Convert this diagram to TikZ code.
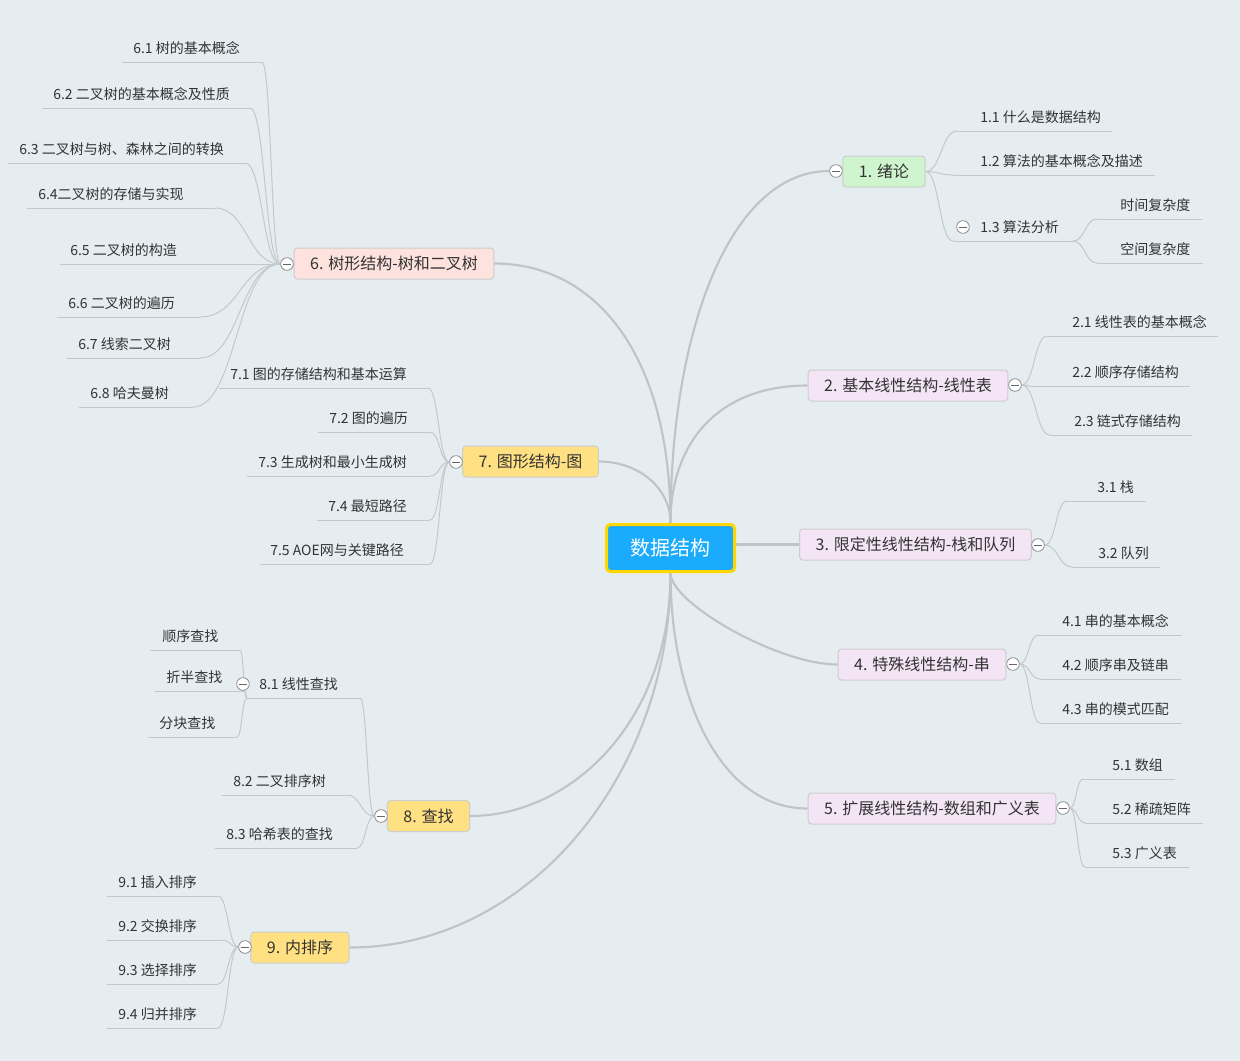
\documentclass[tikz,border=0pt]{standalone}
\usepackage{fontspec}
\newfontfamily\cjk{Noto Sans CJK SC}
\usetikzlibrary{calc}
\definecolor{bgc}{RGB}{229,237,241}
\definecolor{linec}{RGB}{192,196,198}
\definecolor{ulc}{RGB}{196,200,202}
\definecolor{rootc}{RGB}{27,171,252}
\definecolor{rootb}{RGB}{255,214,0}
\definecolor{t1c}{RGB}{206,245,206}
\definecolor{tpc}{RGB}{243,229,245}
\definecolor{t6c}{RGB}{253,226,222}
\definecolor{tyc}{RGB}{255,224,130}
\definecolor{tbord}{RGB}{205,205,205}
\definecolor{txt}{RGB}{51,51,51}
\pgfdeclarelayer{bgl}\pgfdeclarelayer{lnl}\pgfsetlayers{bgl,lnl,main}
\newcommand\sub[6]{%
  \coordinate (#1-l) at (#2,#4);
  \coordinate (#1-r) at (#3,#4);
  \node[subtext] (#1) at (#5,#4-14) {#6};
  \begin{pgfonlayer}{lnl}\draw[uline] (#1-l) -- (#1-r);\end{pgfonlayer}}
\newcommand\br[2]{%
  \begin{pgfonlayer}{lnl}
  \draw[bline] let \p1=(#1), \p2=(#2), \p3=($(#1)!0.5!(#2)$) in
    (\p1) .. controls (\x3,\y1) and (\x3,\y2) .. (\p2);
  \end{pgfonlayer}}
\begin{document}
\begin{tikzpicture}[x=0.75pt,y=-0.75pt,font=\cjk,
  rootnode/.style={draw=rootb, line width=2.25pt, fill=rootc, rounded corners=3pt,
    text=white, font=\cjk\fontsize{15}{18}\selectfont, minimum width=96pt, minimum height=35.25pt},
  topic/.style={draw=tbord, line width=0.75pt, rounded corners=2.5pt,
    font=\cjk\fontsize{12}{14}\selectfont, text=txt, inner xsep=12pt, inner ysep=2pt, minimum height=23.25pt},
  subtext/.style={font=\cjk\fontsize{10.5}{12}\selectfont, text=txt, inner sep=0pt, anchor=west},
  mline/.style={draw=linec, line width=1.6pt},
  bline/.style={draw=ulc, line width=0.75pt},
  uline/.style={draw=ulc, line width=0.75pt},
  collapse/.style={circle, draw=black!45, fill=white, line width=0.6pt, minimum size=9.5pt, inner sep=0pt,
    path picture={\draw[line width=0.6pt, black!60]
      ($(path picture bounding box.west)!0.22!(path picture bounding box.east)$) --
      ($(path picture bounding box.west)!0.78!(path picture bounding box.east)$);}}
]
\useasboundingbox (0,0) rectangle (1240,1061);
\begin{pgfonlayer}{bgl}\fill[bgc] (0,0) rectangle (1240,1061);\end{pgfonlayer}

% root and topics
\node[rootnode] (root) at (670.5,548) {数据结构};
\node[topic, fill=t1c] (t1) at (884,171.5) {1. 绪论};
\node[topic, fill=tpc] (t2) at (908,385.5) {2. 基本线性结构-线性表};
\node[topic, fill=tpc] (t3) at (915.5,544.5) {3. 限定性线性结构-栈和队列};
\node[topic, fill=tpc] (t4) at (922,664.5) {4. 特殊线性结构-串};
\node[topic, fill=tpc] (t5) at (932,808.5) {5. 扩展线性结构-数组和广义表};
\node[topic, fill=t6c] (t6) at (394,263.5) {6. 树形结构-树和二叉树};
\node[topic, fill=tyc] (t7) at (530.5,461.5) {7. 图形结构-图};
\node[topic, fill=tyc] (t8) at (428.5,816) {8. 查找};
\node[topic, fill=tyc] (t9) at (300,947.5) {9. 内排序};

% collapse markers
\node[collapse] (c1) at (836,171) {};
\node[collapse] (c2) at (1015,385) {};
\node[collapse] (c3) at (1038,545) {};
\node[collapse] (c4) at (1013,664) {};
\node[collapse] (c5) at (1063,808) {};
\node[collapse] (c6) at (287,264) {};
\node[collapse] (c7) at (456,462) {};
\node[collapse] (c8) at (381,816) {};
\node[collapse] (c9) at (245,947) {};
\node[collapse] (c13) at (963,227) {};
\node[collapse] (c81) at (243,684) {};

% main connectors
\begin{pgfonlayer}{lnl}
\draw[mline] (root.north) .. controls +(0,-190) and +(-100,0) .. (c1.west);
\draw[mline] (root.north) .. controls +(0,-80) and +(-90,0) .. (t2.west);
\draw[mline] (root.east |- t3.west) -- (t3.west);
\draw[mline] (root.south) .. controls +(0,30) and +(-60,0) .. (t4.west);
\draw[mline] (root.south) .. controls +(0,120) and +(-90,0) .. (t5.west);
\draw[mline] (root.north) .. controls +(0,-170) and +(100,0) .. (t6.east);
\draw[mline] (root.north) .. controls +(0,-35) and +(40,0) .. (t7.east);
\draw[mline] (root.south) .. controls +(0,150) and +(100,0) .. (t8.east);
\draw[mline] (root.south) .. controls +(0,200) and +(180,0) .. (t9.east);
\end{pgfonlayer}

% subtopics
\sub{s11}{957}{1112}{131}{980}{1.1 什么是数据结构}
\sub{s12}{953}{1155}{175}{980}{1.2 算法的基本概念及描述}
\sub{s13}{953}{1073}{241}{980}{1.3 算法分析}
\sub{s131}{1097}{1202}{219}{1120}{时间复杂度}
\sub{s132}{1097}{1203}{263}{1120}{空间复杂度}
\sub{s21}{1047}{1218}{336}{1072}{2.1 线性表的基本概念}
\sub{s22}{1030}{1190}{386}{1072}{2.2 顺序存储结构}
\sub{s23}{1050}{1192}{435}{1074}{2.3 链式存储结构}
\sub{s31}{1067}{1146}{501}{1097}{3.1 栈}
\sub{s32}{1072}{1160}{567}{1098}{3.2 队列}
\sub{s41}{1038}{1182}{635}{1062}{4.1 串的基本概念}
\sub{s42}{1040}{1181}{679}{1062}{4.2 顺序串及链串}
\sub{s43}{1040}{1182}{723}{1062}{4.3 串的模式匹配}
\sub{s51}{1083}{1175}{779}{1112}{5.1 数组}
\sub{s52}{1085}{1203}{823}{1112}{5.2 稀疏矩阵}
\sub{s53}{1085}{1189}{867}{1112}{5.3 广义表}
\sub{s61}{122}{262}{62}{133}{6.1 树的基本概念}
\sub{s62}{42}{250}{108}{53}{6.2 二叉树的基本概念及性质}
\sub{s63}{8}{245}{163}{19}{6.3 二叉树与树、森林之间的转换}
\sub{s64}{27}{215}{208}{38}{6.4二叉树的存储与实现}
\sub{s65}{60}{250}{264}{70}{6.5 二叉树的构造}
\sub{s66}{57}{200}{317}{68}{6.6 二叉树的遍历}
\sub{s67}{67}{200}{358}{78}{6.7 线索二叉树}
\sub{s68}{79}{193}{407}{90}{6.8 哈夫曼树}
\sub{s71}{219}{428}{388}{230}{7.1 图的存储结构和基本运算}
\sub{s72}{318}{430}{432}{329}{7.2 图的遍历}
\sub{s73}{247}{430}{476}{258}{7.3 生成树和最小生成树}
\sub{s74}{317}{430}{520}{328}{7.4 最短路径}
\sub{s75}{260}{430}{564}{270}{7.5 AOE网与关键路径}
\sub{s81}{247}{360}{698}{259}{8.1 线性查找}
\sub{s811}{150}{240}{650}{162}{顺序查找}
\sub{s812}{155}{245}{691}{166}{折半查找}
\sub{s813}{148}{237}{737}{159}{分块查找}
\sub{s82}{222}{347}{795}{233}{8.2 二叉排序树}
\sub{s83}{215}{357}{848}{226}{8.3 哈希表的查找}
\sub{s91}{107}{218}{896}{118}{9.1 插入排序}
\sub{s92}{107}{222}{940}{118}{9.2 交换排序}
\sub{s93}{107}{218}{984}{118}{9.3 选择排序}
\sub{s94}{107}{218}{1028}{118}{9.4 归并排序}

% branches
\br{t1.east}{s11-l}\br{t1.east}{s12-l}\br{t1.east}{s13-l}
\br{s13-r}{s131-l}\br{s13-r}{s132-l}
\br{c2.east}{s21-l}\br{c2.east}{s22-l}\br{c2.east}{s23-l}
\br{c3.east}{s31-l}\br{c3.east}{s32-l}
\br{c4.east}{s41-l}\br{c4.east}{s42-l}\br{c4.east}{s43-l}
\br{c5.east}{s51-l}\br{c5.east}{s52-l}\br{c5.east}{s53-l}
\br{c6.west}{s61-r}\br{c6.west}{s62-r}\br{c6.west}{s63-r}\br{c6.west}{s64-r}
\br{c6.west}{s65-r}\br{c6.west}{s66-r}\br{c6.west}{s67-r}\br{c6.west}{s68-r}
\br{c7.west}{s71-r}\br{c7.west}{s72-r}\br{c7.west}{s73-r}\br{c7.west}{s74-r}\br{c7.west}{s75-r}
\br{c8.west}{s81-r}\br{c8.west}{s82-r}\br{c8.west}{s83-r}
\br{s81-l}{s811-r}\br{s81-l}{s812-r}\br{s81-l}{s813-r}
\br{c9.west}{s91-r}\br{c9.west}{s92-r}\br{c9.west}{s93-r}\br{c9.west}{s94-r}
\end{tikzpicture}
\end{document}
